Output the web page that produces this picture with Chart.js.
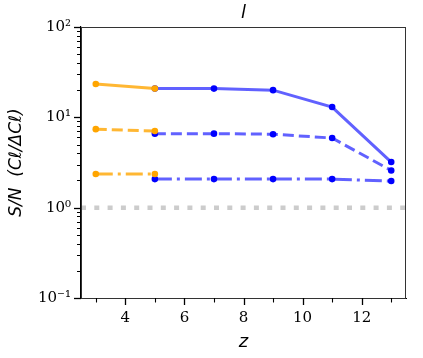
<!DOCTYPE html>
<html>
<head>
<meta charset="utf-8">
<script src="https://cdn.jsdelivr.net/npm/chart.js@4.4.1/dist/chart.umd.min.js"></script>
<style>
html,body{margin:0;padding:0;background:#fff;}
#wrap{width:423px;height:358px;position:relative;}
</style>
</head>
<body>
<div id="wrap"><canvas id="c" width="423" height="358"></canvas></div>
<script>
// Data
const zLow = [3, 5];
const zHigh = [5, 7, 9, 11, 13];
const orangeSolid = [23.4, 20.8];
const orangeDashed = [7.4, 7.05];
const orangeDashDot = [2.36, 2.36];
const blueSolid = [20.8, 20.8, 20.0, 13.0, 3.2];
const blueDashed = [6.6, 6.6, 6.5, 5.9, 2.58];
const blueDashDot = [2.07, 2.07, 2.07, 2.07, 1.97];
const refLineX = [2.5, 13.5];
const refLineY = [1, 1];
const yMajorTicks = [0.1, 1, 10, 100];
const yMajorLabels = ['10\u207B\u00B9', '10\u2070', '10\u00B9', '10\u00B2'];
const xTicks = [3, 4, 5, 6, 7, 8, 9, 10, 11, 12, 13];
const xLabelled = [4, 6, 8, 10, 12];

function pts(xs, ys){ return xs.map((x,i)=>({x:x, y:ys[i]})); }

const ORANGE_L = 'rgba(255,165,0,0.8)';
const ORANGE_P = 'rgb(255,165,0)';
const BLUE_L = 'rgba(0,0,255,0.62)';
const BLUE_P = 'rgb(0,0,255)';

function ds(data, lc, pc, dash){
  return {data:data, borderColor:lc, backgroundColor:pc, pointBackgroundColor:pc,
    pointBorderColor:pc, pointRadius:3.3, pointBorderWidth:0, borderWidth:3,
    borderDash:dash, tension:0, fill:false, clip:false};
}

// minor tick values for log axis
const yMinor = [];
[0.1, 1, 10].forEach(d => { for (let k=2;k<=9;k++) yMinor.push(d*k); });

const framePlugin = {
  id:'frame',
  afterDraw(chart){
    const {ctx, chartArea:a, scales} = chart;
    ctx.save();
    ctx.strokeStyle = '#333';
    ctx.lineWidth = 1;
    ctx.strokeRect(a.left+0.5, a.top+0.5, a.right-a.left-1, a.bottom-a.top);
    // y ticks
    ctx.strokeStyle = '#000';
    ctx.lineWidth = 1.3;
    const ys = scales.y;
    yMajorTicks.forEach(v=>{
      const p = Math.round(ys.getPixelForValue(v))+0.5;
      ctx.beginPath(); ctx.moveTo(a.left-7, p); ctx.lineTo(a.left, p); ctx.stroke();
    });
    ctx.lineWidth = 1;
    yMinor.forEach(v=>{
      const p = Math.round(ys.getPixelForValue(v))+0.5;
      ctx.beginPath(); ctx.moveTo(a.left-4, p); ctx.lineTo(a.left, p); ctx.stroke();
    });
    const xs = scales.x;
    xTicks.forEach(v=>{
      const p = Math.round(xs.getPixelForValue(v))+0.5;
      const len = xLabelled.includes(v) ? 7 : 4.5;
      ctx.lineWidth = xLabelled.includes(v) ? 1.3 : 1.1;
      ctx.beginPath(); ctx.moveTo(p, a.bottom); ctx.lineTo(p, a.bottom+len); ctx.stroke();
    });
    ctx.restore();
  }
};

new Chart(document.getElementById('c'), {
  type:'line',
  data:{datasets:[
    {data:pts(refLineX, refLineY), borderColor:'#cccccc', borderWidth:4.5, borderDash:[5,8.3],
     pointRadius:0, tension:0, fill:false},
    ds(pts(zLow, orangeSolid), ORANGE_L, ORANGE_P, []),
    ds(pts(zHigh, blueSolid), BLUE_L, BLUE_P, []),
    ds(pts(zLow, orangeDashed), ORANGE_L, ORANGE_P, [11,5]),
    ds(pts(zHigh, blueDashed), BLUE_L, BLUE_P, [11,5]),
    ds(pts(zLow, orangeDashDot), ORANGE_L, ORANGE_P, [17,5,3,5]),
    ds(pts(zHigh, blueDashDot), BLUE_L, BLUE_P, [17,5,3,5])
  ]},
  options:{
    responsive:false, animation:false, devicePixelRatio:1,
    layout:{padding:{left:0, right:17, top:0, bottom:0}},
    plugins:{
      legend:{display:false}, tooltip:{enabled:false},
      title:{display:true, text:'l', fullSize:false,
        font:{family:'DejaVu Sans', size:18, style:'italic', weight:'normal'}, color:'#000',
        padding:{top:3, bottom:2.4}}
    },
    scales:{
      x:{type:'linear', min:2.5, max:13.5,
        afterBuildTicks(s){ s.ticks = xLabelled.map(v=>({value:v})); },
        ticks:{font:{family:'DejaVu Serif', size:15}, color:'#000', padding:11, maxRotation:0,
          callback:(v)=>String(v)},
        grid:{display:false, drawTicks:false},
        border:{display:true, color:'#000', width:1},
        title:{display:true, text:'z', font:{family:'DejaVu Sans', size:18, style:'italic'}, color:'#000', padding:{top:0,bottom:5}},
        afterFit(s){ s.height = 60; }
      },
      y:{type:'logarithmic', min:0.1, max:100,
        afterBuildTicks(s){ s.ticks = yMajorTicks.map(v=>({value:v})); },
        ticks:{font:{family:'DejaVu Serif', size:15}, color:'#000', padding:10,
          callback:(v)=>{ const i = yMajorTicks.indexOf(v); return i>=0 ? yMajorLabels[i] : ''; }},
        grid:{display:false, drawTicks:false},
        border:{display:true, color:'#000', width:1.2},
        title:{display:true, text:'S/N  (C\u2113/\u0394C\u2113)', font:{family:'DejaVu Sans', size:17, style:'italic'}, color:'#000', padding:{top:6,bottom:0}},
        afterFit(s){ s.width = 81; }
      }
    }
  },
  plugins:[framePlugin]
});
</script>
</body>
</html>
